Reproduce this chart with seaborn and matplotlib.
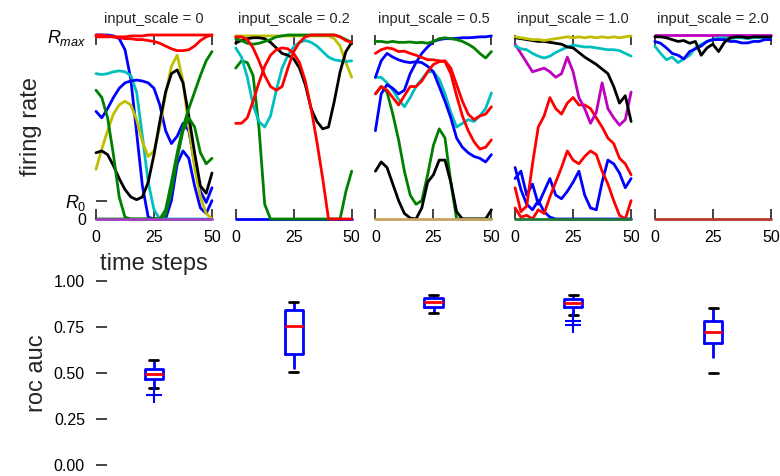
import numpy as np
import pandas as pd
import matplotlib
matplotlib.use("Agg")
import matplotlib.pyplot as plt
import seaborn as sns

sns.set_style("white")
plt.rcParams['font.family'] = ['Liberation Sans', 'DejaVu Sans']
plt.rcParams['mathtext.fontset'] = 'custom'
plt.rcParams['mathtext.rm'] = 'Liberation Sans'
plt.rcParams['mathtext.it'] = 'Liberation Sans:italic'

# time grid (every 2.5 steps)
t = np.arange(0, 50.1, 2.5)

# --- input_scale = 0 ---
s0_red_a = [0.99, 0.99, 0.99, 0.99, 0.99, 0.99, 0.995, 0.995, 0.995, 1.0, 1.0, 1.0, 1.0, 1.0, 1.0, 1.0, 1.0, 1.0, 1.0, 1.0, 1.0]
s0_red_b = [1.0, 1.0, 0.995, 0.99, 0.985, 0.98, 0.98, 0.975, 0.975, 0.97, 0.965, 0.955, 0.94, 0.925, 0.915, 0.915, 0.92, 0.94, 0.97, 0.99, 1.0]
s0_blue_a = [1.0, 1.0, 1.0, 0.995, 0.98, 0.92, 0.76, 0.47, 0.18, 0.01, 0.0, 0.0, 0.0, 0.1, 0.3, 0.37, 0.33, 0.18, 0.06, 0.03, 0.1]
s0_blue_b = [0.585, 0.55, 0.6, 0.66, 0.71, 0.74, 0.75, 0.755, 0.75, 0.74, 0.71, 0.62, 0.48, 0.41, 0.45, 0.52, 0.48, 0.3, 0.15, 0.09, 0.17]
s0_cyan = [0.79, 0.785, 0.79, 0.8, 0.805, 0.8, 0.78, 0.69, 0.45, 0.2, 0.05, 0.0, 0.0, 0.0, 0.0, 0.0, 0.0, 0.0, 0.0, 0.0, 0.0]
s0_yellow = [0.27, 0.38, 0.48, 0.57, 0.62, 0.64, 0.62, 0.54, 0.42, 0.34, 0.37, 0.5, 0.68, 0.83, 0.89, 0.75, 0.5, 0.28, 0.12, 0.03, 0.0]
s0_black = [0.36, 0.37, 0.35, 0.29, 0.22, 0.16, 0.12, 0.105, 0.12, 0.2, 0.35, 0.53, 0.69, 0.79, 0.81, 0.74, 0.56, 0.36, 0.18, 0.14, 0.25]
s0_green_a = [0.7, 0.66, 0.55, 0.35, 0.12, 0.01, 0.0, 0.0, 0.0, 0.0, 0.0, 0.0, 0.02, 0.15, 0.33, 0.48, 0.55, 0.5, 0.36, 0.3, 0.33]
s0_green_b = [0.0, 0.0, 0.0, 0.0, 0.0, 0.0, 0.0, 0.0, 0.0, 0.0, 0.0, 0.0, 0.05, 0.2, 0.36, 0.5, 0.6, 0.69, 0.78, 0.86, 0.91]
s0_magenta = [0.0] * 21

# --- input_scale = 0.2 ---
s1_yellow = [0.995] * 17 + [0.98, 0.94, 0.85, 0.77]
s1_black = [0.957, 0.97, 0.98, 0.985, 0.985, 0.98, 0.96, 0.93, 0.9, 0.89, 0.87, 0.82, 0.73, 0.6, 0.53, 0.49, 0.5, 0.64, 0.8, 0.91, 0.96]
s1_green_a = [0.98, 0.97, 0.955, 0.95, 0.955, 0.965, 0.975, 0.99, 0.995, 1.0, 1.0, 1.0, 1.0, 1.0, 1.0, 1.0, 1.0, 1.0, 0.99, 0.975, 0.96]
s1_red_a = [0.99, 0.99, 0.975, 0.93, 0.86, 0.78, 0.72, 0.7, 0.72, 0.82, 0.91, 0.96, 0.99, 1.0, 1.0, 1.0, 1.0, 1.0, 0.99, 0.97, 0.96]
s1_red_b = [0.52, 0.52, 0.55, 0.64, 0.74, 0.83, 0.89, 0.92, 0.93, 0.925, 0.9, 0.85, 0.75, 0.6, 0.42, 0.22, 0.0, 0.0, 0.0, 0.0, 0.0]
s1_cyan = [0.93, 0.88, 0.77, 0.62, 0.53, 0.5, 0.56, 0.7, 0.82, 0.89, 0.935, 0.96, 0.97, 0.96, 0.94, 0.91, 0.88, 0.865, 0.86, 0.855, 0.86]
s1_green_b = [0.82, 0.86, 0.85, 0.78, 0.5, 0.08, 0.0, 0.0, 0.0, 0.0, 0.0, 0.0, 0.0, 0.0, 0.0, 0.0, 0.0, 0.0, 0.0, 0.15, 0.26]
s1_blue = [0.0] * 21

# --- input_scale = 0.5 ---
s2_green_a = [0.965, 0.965, 0.96, 0.965, 0.96, 0.96, 0.962, 0.958, 0.96, 0.955, 0.965, 0.98, 0.985, 0.98, 0.975, 0.965, 0.95, 0.93, 0.9, 0.875, 0.91]
s2_blue_a = [0.48, 0.68, 0.73, 0.71, 0.68, 0.7, 0.79, 0.85, 0.9, 0.935, 0.965, 0.975, 0.98, 0.98, 0.982, 0.985, 0.985, 0.987, 0.99, 0.99, 0.995]
s2_blue_b = [0.77, 0.86, 0.9, 0.88, 0.865, 0.855, 0.85, 0.855, 0.85, 0.83, 0.8, 0.72, 0.64, 0.55, 0.44, 0.39, 0.36, 0.34, 0.33, 0.31, 0.35]
s2_red_a = [0.9, 0.92, 0.93, 0.925, 0.91, 0.912, 0.9, 0.89, 0.878, 0.866, 0.865, 0.86, 0.855, 0.79, 0.67, 0.56, 0.48, 0.42, 0.38, 0.39, 0.43]
s2_red_b = [0.68, 0.72, 0.7, 0.66, 0.62, 0.67, 0.72, 0.72, 0.75, 0.8, 0.84, 0.855, 0.86, 0.82, 0.73, 0.64, 0.57, 0.54, 0.56, 0.57, 0.61]
s2_cyan = [0.77, 0.77, 0.74, 0.7, 0.65, 0.61, 0.66, 0.72, 0.76, 0.8, 0.8, 0.76, 0.68, 0.58, 0.5, 0.52, 0.54, 0.53, 0.56, 0.6, 0.685]
s2_green_b = [0.68, 0.72, 0.69, 0.57, 0.43, 0.26, 0.13, 0.08, 0.1, 0.24, 0.4, 0.49, 0.44, 0.2, 0.0, 0.0, 0.0, 0.0, 0.0, 0.0, 0.0]
s2_black = [0.26, 0.31, 0.28, 0.19, 0.1, 0.03, 0.005, 0.0, 0.06, 0.2, 0.24, 0.32, 0.32, 0.2, 0.04, 0.0, 0.0, 0.0, 0.0, 0.0, 0.05]
s2_tan = [0.0] * 21

# --- input_scale = 1.0 ---
s3_yellow = [0.99, 0.985, 0.98, 0.975, 0.975, 0.97, 0.975, 0.98, 0.985, 0.99, 0.985, 0.99, 0.985, 0.99, 0.985, 0.99, 0.985, 0.99, 0.985, 0.99, 0.995]
s3_black = [0.985, 0.98, 0.975, 0.97, 0.965, 0.965, 0.96, 0.955, 0.95, 0.935, 0.93, 0.905, 0.88, 0.86, 0.84, 0.815, 0.79, 0.72, 0.63, 0.67, 0.53]
s3_cyan = [0.94, 0.925, 0.92, 0.9, 0.885, 0.875, 0.885, 0.905, 0.92, 0.935, 0.945, 0.94, 0.935, 0.935, 0.93, 0.925, 0.92, 0.92, 0.915, 0.9, 0.885]
s3_magenta = [0.95, 0.9, 0.85, 0.8, 0.81, 0.82, 0.8, 0.77, 0.79, 0.88, 0.8, 0.66, 0.6, 0.52, 0.58, 0.74, 0.6, 0.55, 0.51, 0.54, 0.69]
s3_red_a = [0.17, 0.04, 0.07, 0.3, 0.5, 0.56, 0.66, 0.6, 0.57, 0.63, 0.66, 0.62, 0.62, 0.6, 0.55, 0.5, 0.44, 0.41, 0.33, 0.3, 0.24]
s3_red_b = [0.06, 0.01, 0.02, 0.0, 0.05, 0.03, 0.12, 0.2, 0.28, 0.37, 0.32, 0.3, 0.34, 0.37, 0.35, 0.26, 0.19, 0.1, 0.02, 0.0, 0.1]
s3_blue_a = [0.22, 0.26, 0.13, 0.19, 0.08, 0.15, 0.22, 0.13, 0.11, 0.15, 0.2, 0.26, 0.13, 0.06, 0.05, 0.2, 0.32, 0.3, 0.25, 0.17, 0.22]
s3_blue_b = [0.28, 0.16, 0.08, 0.05, 0.1, 0.04, 0.01, 0.0, 0.0, 0.0, 0.0, 0.0, 0.0, 0.0, 0.0, 0.0, 0.0, 0.0, 0.0, 0.0, 0.0]
s3_green = [0.0] * 21

# --- input_scale = 2.0 ---
s4_magenta = [0.998] * 21
s4_black = [0.99, 0.99, 0.985, 0.975, 0.965, 0.97, 0.955, 0.965, 0.89, 0.93, 0.95, 0.91, 0.96, 0.985, 0.99, 0.99, 0.985, 0.99, 0.99, 0.99, 0.99]
s4_blue = [0.965, 0.955, 0.93, 0.9, 0.89, 0.87, 0.91, 0.925, 0.94, 0.965, 0.975, 0.975, 0.975, 0.965, 0.965, 0.957, 0.957, 0.965, 0.965, 0.975, 0.975]
s4_cyan = [0.94, 0.9, 0.866, 0.88, 0.85, 0.87, 0.89, 0.93, 0.95, 0.965, 0.975, 0.985, 0.985, 0.98, 0.985, 0.985, 0.98, 0.985, 0.985, 0.985, 0.985]
s4_brown = [0.0] * 21

# roc auc per input scale
scales = ["0", "0.2", "0.5", "1.0", "2.0"]
auc_0 = [0.38, 0.418, 0.466, 0.48, 0.493, 0.505, 0.52, 0.545, 0.571]
auc_02 = [0.504, 0.605, 0.757, 0.841, 0.884]
auc_05 = [0.828, 0.86, 0.884, 0.906, 0.922]
auc_10 = [0.76, 0.785, 0.813, 0.857, 0.865, 0.875, 0.882, 0.89, 0.895, 0.902, 0.91, 0.918, 0.926]
auc_20 = [0.5, 0.661, 0.725, 0.784, 0.851]

panels = [
    [("b", s0_blue_a), ("c", s0_cyan), ("b", s0_blue_b), ("y", s0_yellow), ("k", s0_black),
     ("g", s0_green_a), ("g", s0_green_b), ("r", s0_red_a), ("r", s0_red_b), ("#a040c0", s0_magenta)],
    [("b", s1_blue), ("y", s1_yellow), ("g", s1_green_b), ("c", s1_cyan), ("k", s1_black),
     ("g", s1_green_a), ("r", s1_red_a), ("r", s1_red_b)],
    [("g", s2_green_b), ("k", s2_black), ("c", s2_cyan), ("b", s2_blue_b), ("b", s2_blue_a),
     ("r", s2_red_a), ("r", s2_red_b), ("g", s2_green_a), ("#c9a463", s2_tan)],
    [("b", s3_blue_b), ("b", s3_blue_a), ("r", s3_red_b), ("r", s3_red_a), ("m", s3_magenta),
     ("c", s3_cyan), ("k", s3_black), ("y", s3_yellow), ("#1f7a3a", s3_green)],
    [("m", s4_magenta), ("c", s4_cyan), ("b", s4_blue), ("k", s4_black), ("#b33a2b", s4_brown)],
]
titles = ["input_scale = " + s for s in scales]

fig = plt.figure(figsize=(7.8, 4.76), dpi=100)

for i, lines in enumerate(panels):
    ax = fig.add_axes([(96 + 139.7 * i) / 780, 1 - 219 / 476, 116 / 780, 184 / 476])
    for c, vals in lines:
        sns.lineplot(x=t, y=vals, color=c, linewidth=2, ax=ax, clip_on=False)
    ax.set_xlim(0, 50)
    ax.set_ylim(0, 1)
    for sp in ax.spines.values():
        sp.set_visible(False)
    ax.set_xticks([0, 25, 50])
    ax.set_xticklabels(["0", "25", "50"])
    ax.tick_params(axis="x", direction="in", bottom=True, top=True, length=7, width=1.2,
                   pad=8, labelsize=11.5, colors="#222222", labelcolor="black")
    ax.set_title(titles[i], fontsize=10.5, pad=9)
    if i == 0:
        ax.set_yticks([0, 0.1, 1.0])
        ax.set_yticklabels(["0", "$R_0$", "$R_{max}$"])
        ax.tick_params(axis="y", direction="in", left=True, length=8, width=1.2, pad=7,
                       labelsize=11.5, colors="#222222", labelcolor="black")
        for lab in ax.get_yticklabels()[1:]:
            lab.set_fontsize(13)
        ax.set_ylabel("firing rate", fontsize=17)
        ax.set_xlabel("time steps", fontsize=17, labelpad=6)
    else:
        ax.set_yticks([])
        ax.set_xlabel("")
        ax.set_ylabel("")

# bottom: roc auc boxes
auc_lists = [auc_0, auc_02, auc_05, auc_10, auc_20]
df = pd.DataFrame({
    "scale": [s for s, v in zip(scales, auc_lists) for _ in v],
    "auc": [a for v in auc_lists for a in v],
})

axb = fig.add_axes([96 / 780, 1 - 465 / 476, 675 / 780, 184 / 476])
sns.boxplot(data=df, x="scale", y="auc", order=scales, ax=axb, width=0.13,
            fill=False, color="blue", linewidth=2, whis=1.5,
            medianprops=dict(color="red"),
            whiskerprops=dict(color="blue", linestyle=(0, (5.4, 5.4))),
            capprops=dict(color="black"),
            flierprops=dict(marker="+", markeredgecolor="blue", markersize=11,
                            markeredgewidth=1.5))
axb.set_xlim(-0.414, 4.414)
axb.set_ylim(0, 1)
for sp in axb.spines.values():
    sp.set_visible(False)
axb.set_xticks([])
axb.set_xlabel("")
axb.set_yticks([0, 0.25, 0.5, 0.75, 1.0])
axb.set_yticklabels(["0.00", "0.25", "0.50", "0.75", "1.00"])
axb.tick_params(axis="y", direction="in", left=True, length=8, width=1.2, pad=8,
                labelsize=11.5, colors="#222222", labelcolor="black")
axb.set_ylabel("roc auc", fontsize=17)

fig.savefig("out.png", dpi=100)
